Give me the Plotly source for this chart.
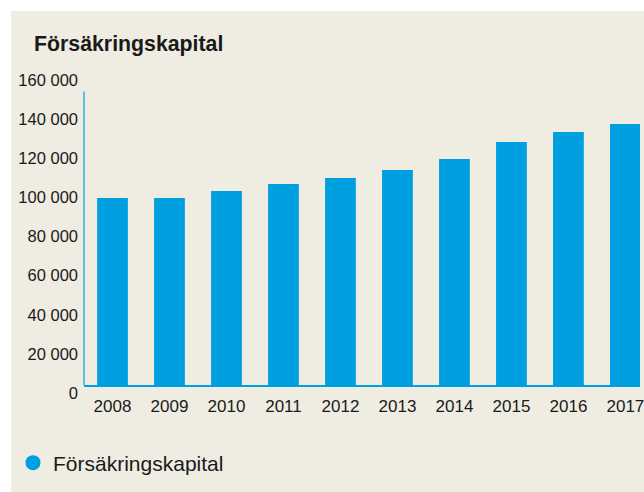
import plotly.graph_objects as go

years = ["2008", "2009", "2010", "2011", "2012", "2013", "2014", "2015", "2016", "2017"]
kapital = [95600, 95600, 99200, 102800, 105800, 109900, 115500, 124200, 129300, 133400]
y_ticks = [0, 20000, 40000, 60000, 80000, 100000, 120000, 140000, 160000]
y_tick_labels = ["0", "20 000", "40 000", "60 000", "80 000", "100 000", "120 000", "140 000", "160 000"]
series_name = "Försäkringskapital"
title_text = "Försäkringskapital"

BLUE = "#009FDF"
BEIGE = "#EFECE2"
TEXT = "#1A1A1A"
FONT = "Liberation Sans, Arial, sans-serif"

fig = go.Figure()
fig.add_trace(go.Bar(x=years, y=kapital, marker=dict(color=BLUE, line=dict(width=0)),
                     showlegend=False, name=series_name))
fig.add_trace(go.Scatter(x=[None], y=[None], mode="markers", name=series_name,
                         marker=dict(color=BLUE, size=15, symbol="circle")))

# beige panel
fig.add_shape(type="rect", xref="paper", yref="paper", xsizemode="pixel", ysizemode="pixel",
              xanchor=0, yanchor=0, x0=-73, x1=700, y0=-120, y1=374,
              fillcolor=BEIGE, line=dict(width=0), layer="below")
# y axis line (up to 150 000)
fig.add_shape(type="line", xref="paper", yref="y", x0=0, x1=0, y0=0, y1=150000,
              line=dict(color=BLUE, width=1.2))

fig.update_layout(
    width=644, height=492,
    margin=dict(l=84, r=0, t=72, b=107, pad=0),
    paper_bgcolor="white", plot_bgcolor="rgba(0,0,0,0)",
    bargap=0.46,
    font=dict(family=FONT, color=TEXT),
    title=dict(text="<b>" + title_text + "</b>", x=34 / 644, xanchor="left", xref="container",
               y=1 - 44 / 492, yanchor="middle", yref="container",
               font=dict(size=21.3, family=FONT, color=TEXT)),
    xaxis=dict(type="category", range=[-0.5, 9.256], showgrid=False, zeroline=False,
               showline=True, linecolor=BLUE, linewidth=1.5, ticks="",
               tickfont=dict(size=17, family=FONT, color=TEXT), ticklabelstandoff=5),
    yaxis=dict(range=[0, 160000], showgrid=False, zeroline=False, showline=False, ticks="",
               tickvals=y_ticks, ticktext=y_tick_labels,
               tickfont=dict(size=16.5, family=FONT, color=TEXT),
               ticklabelshift=8, ticklabelstandoff=5),
    legend=dict(orientation="h", xref="container", yref="container", x=13 / 644, y=1 - 463 / 492,
                xanchor="left", yanchor="middle", bgcolor="rgba(0,0,0,0)",
                font=dict(size=21, family=FONT, color=TEXT)),
)

fig.write_html("out.html", config={"displayModeBar": False},
               post_script="document.body.style.margin='0px';")
